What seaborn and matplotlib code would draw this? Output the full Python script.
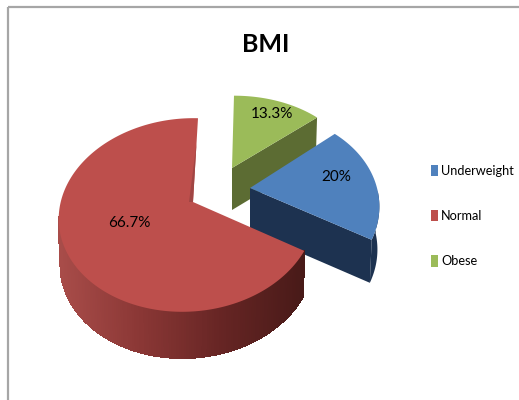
import numpy as np
import matplotlib.pyplot as plt
from matplotlib.patches import Polygon, Rectangle, Patch
from matplotlib.collections import PolyCollection
from matplotlib.colors import LinearSegmentedColormap
import seaborn as sns

# ==============================
# Data
# ==============================
categories = ["Underweight", "Normal", "Obese"]
shares = [20, 66.7, 13.3]
share_labels = ["20%", "66.7%", "13.3%"]

# ==============================
# Style
# ==============================
sns.set_theme(style="white")
plt.rcParams["font.family"] = ["Lato", "DejaVu Sans"]

top_colors = sns.color_palette(["#4f81bd", "#bd4f4c", "#9bbb59"])
side_colors = ["#1d3250", None, "#5c6c33"]
red_side = LinearSegmentedColormap.from_list(
    "red_side", ["#a84c49", "#8a3735", "#662524", "#481a18"])

# pie geometry per slice, in pixels (explode + perspective)
apex = [(250, 188), (193, 202), (232, 168)]
radius_x = [127, 127, 123]
radius_y = [92.6, 95, 82]
side_tilt = [0.0, 0.04, 0.0]
front_tilt = [0.22, 0.134, 0.134]
shear = [4, 5, 2]
depth = [43, 46, 42]
label_pos = [(336, 177), (129, 223), (272, 114)]


def project(i, angle):
    # angle is clockwise from 12 o'clock, projected onto the tilted disc
    u, v = np.sin(angle), -np.cos(angle)
    w = 1 - front_tilt[i] * v + side_tilt[i] * u
    return (apex[i][0] + radius_x[i] * u / w - shear[i] * v,
            apex[i][1] + radius_y[i] * v / w)


def rim(i, start, stop, n=120):
    x, y = project(i, np.linspace(start, stop, n))
    return np.column_stack([x, y])


def lower(points, i):
    # same outline moved down by the slice thickness, a little narrower
    out = np.array(points, dtype=float)
    out[:, 0] = apex[i][0] + (out[:, 0] - apex[i][0]) * 0.985
    out[:, 1] += depth[i]
    return out


fig = plt.figure(figsize=(5.19, 4.0), dpi=100)
ax = fig.add_axes([0, 0, 1, 1])
ax.set_xlim(0, 519)
ax.set_ylim(400, 0)
ax.axis("off")

ax.add_patch(Rectangle((8, 7), 600, 500, fill=False, ec="#a6a6a6", lw=1.6))

# ==============================
# Slices: clockwise from the top, Obese first
# ==============================
fractions = np.array(shares) / sum(shares)
angles = {}
start = 0.0
for i in [2, 0, 1]:
    angles[i] = (start, start + fractions[i] * 2 * np.pi)
    start = angles[i][1]

# Obese
a0, a1 = angles[2]
edge = rim(2, a1, a1, 1)
ap = np.array([apex[2]], dtype=float)
wall = np.vstack([ap, edge, lower(edge, 2), lower(ap, 2)])
ax.add_patch(Polygon(wall, fc=side_colors[2], ec="none", zorder=2))
ax.add_patch(Polygon(np.vstack([ap, rim(2, a0, a1)]), fc=top_colors[2], ec="none", zorder=3))

# Underweight
a0, a1 = angles[0]
ap = np.array([apex[0]], dtype=float)
edge = rim(0, a0, a1)
wall = np.vstack([ap, edge[-1:], lower(edge[-1:], 0), lower(ap, 0)])
ax.add_patch(Polygon(wall, fc=side_colors[0], ec="none", zorder=4))
outer = edge[edge[:, 1] > 190]
ax.add_patch(Polygon(np.vstack([outer, lower(outer, 0)[::-1]]), fc=side_colors[0], ec="none", zorder=4))
ax.add_patch(Polygon(np.vstack([ap, edge]), fc=top_colors[0], ec="none", zorder=5))

# Normal: side strips shaded left to right (front of the rim only), then the top
a0, a1 = angles[1]
ap = np.array([apex[1]], dtype=float)
edge = rim(1, a0, a1, 240)
low = lower(edge, 1)
x_min, x_max = edge[:, 0].min(), edge[:, 0].max()
quads, shades = [], []
for j in range(len(edge) - 1):
    if edge[j, 1] > apex[1][1] + 15:
        quads.append([edge[j], edge[j + 1], low[j + 1], low[j]])
        shades.append(red_side((edge[j, 0] - x_min) / (x_max - x_min)))
ax.add_collection(PolyCollection(quads, facecolors=shades, edgecolors=shades, lw=1.0,
                                 antialiased=False, zorder=6))
ax.add_patch(Polygon(np.vstack([ap, edge]), fc=top_colors[1], ec="none", zorder=7))

# thin cut wall showing at the start of the red slice
inner = rim(1, a1, a1, 1)
sliver = np.vstack([ap + 0.7 * (inner - ap), ap, ap + [-4, 0]])
ax.add_patch(Polygon(sliver, fc="#a04543", ec="none", zorder=8))

# ==============================
# Text
# ==============================
for i in range(3):
    ax.text(label_pos[i][0], label_pos[i][1], share_labels[i], fontsize=11, color="black",
            ha="center", va="center", zorder=10)

ax.text(266, 45, "BMI", fontsize=18, fontweight="bold", color="black", ha="center", va="center")

handles = [Patch(fc=top_colors[i], ec="none") for i in range(3)]
ax.legend(handles, categories, loc="center left", bbox_to_anchor=(431 / 519, 1 - 216 / 400),
          frameon=False, fontsize=9.2, labelspacing=2.6, handlelength=0.55, handleheight=1.0,
          handletextpad=0.25, borderpad=0, borderaxespad=0, labelcolor="black")

fig.savefig("out.png", dpi=100)
